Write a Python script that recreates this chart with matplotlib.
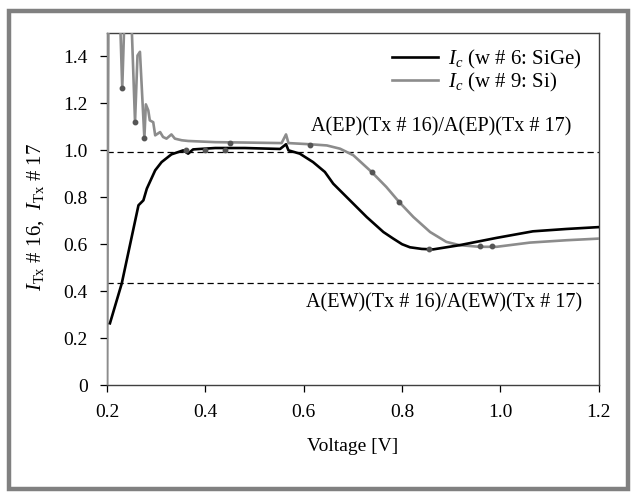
import numpy as np
import matplotlib.pyplot as plt
from matplotlib.patches import Rectangle

# SiGe (w # 6) curve
v_sige = [0.206, 0.230, 0.264, 0.274, 0.281, 0.298, 0.311, 0.331, 0.355, 0.365, 0.375,
          0.389, 0.42, 0.48, 0.552, 0.564, 0.569, 0.592, 0.619, 0.643, 0.660, 0.694,
          0.728, 0.762, 0.782, 0.800, 0.816, 0.840, 0.863, 0.917, 0.992, 1.066, 1.134, 1.2]
i_sige = [0.263, 0.433, 0.766, 0.787, 0.837, 0.915, 0.950, 0.983, 1.0, 0.986, 1.004,
          1.006, 1.01, 1.01, 1.006, 1.026, 1.0, 0.986, 0.95, 0.908, 0.858, 0.787,
          0.716, 0.652, 0.624, 0.600, 0.587, 0.580, 0.578, 0.596, 0.627, 0.655, 0.665, 0.673]

# Si (w # 9) curve
v_si = [0.2, 0.203, 0.226, 0.231, 0.236, 0.249, 0.257, 0.262, 0.267, 0.276, 0.279, 0.284,
        0.287, 0.294, 0.298, 0.308, 0.314, 0.321, 0.331, 0.338, 0.352, 0.365, 0.42,
        0.491, 0.555, 0.564, 0.569, 0.613, 0.647, 0.674, 0.701, 0.738, 0.768, 0.794,
        0.823, 0.857, 0.890, 0.917, 0.958, 0.992, 1.06, 1.134, 1.2]
i_si = [0.0, 1.6, 1.6, 1.265, 1.6, 1.6, 1.12, 1.404, 1.42, 1.052, 1.196, 1.17,
        1.128, 1.12, 1.064, 1.078, 1.057, 1.05, 1.068, 1.05, 1.043, 1.04, 1.035,
        1.033, 1.031, 1.068, 1.031, 1.026, 1.021, 1.007, 0.979, 0.908, 0.844, 0.78,
        0.716, 0.652, 0.61, 0.596, 0.589, 0.589, 0.607, 0.617, 0.624]

# small data markers visible on the curves
v_dots = [0.231, 0.257, 0.276, 0.45, 0.612, 0.738, 0.794, 0.958, 0.982, 0.36, 0.40, 0.44, 0.855]
i_dots = [1.265, 1.12, 1.052, 1.033, 1.022, 0.908, 0.78, 0.592, 0.592, 1.0, 1.0, 1.0, 0.578]

ep_ratio = 0.995
ew_ratio = 0.435

plt.rcParams['font.family'] = 'Liberation Serif'
plt.rcParams['mathtext.fontset'] = 'custom'
plt.rcParams['mathtext.it'] = 'Liberation Serif:italic'
plt.rcParams['mathtext.rm'] = 'Liberation Serif'

fig = plt.figure(figsize=(6.35, 4.93), dpi=100)
ax = fig.add_axes([0.1685, 0.219, 0.7745, 0.714])

ax.plot(v_si, i_si, color='#8c8c8c', lw=1.9, zorder=3)
ax.plot(v_sige, i_sige, color='black', lw=1.9, zorder=4)
ax.plot(v_dots, i_dots, 'o', color='#555555', ms=3.2, zorder=5)
ax.axhline(ep_ratio, color='black', lw=0.9, ls=(0, (5, 3)), zorder=2)
ax.axhline(ew_ratio, color='black', lw=0.9, ls=(0, (5, 3)), zorder=2)

l1, = ax.plot([], [], color='black', lw=1.9)
l2, = ax.plot([], [], color='#8c8c8c', lw=1.9)
ax.legend([l1, l2], ['$I_c$ (w # 6: SiGe)', '$I_c$ (w # 9: Si)'], loc='upper right',
          bbox_to_anchor=(0.995, 1.0), frameon=False, fontsize=15, handlelength=2.2,
          handletextpad=0.5, labelspacing=0.0, borderaxespad=0.3)

ax.text(1.145, 1.10, 'A(EP)(Tx # 16)/A(EP)(Tx # 17)', fontsize=14.5, ha='right', va='center')
ax.text(1.167, 0.349, 'A(EW)(Tx # 16)/A(EW)(Tx # 17)', fontsize=14.5, ha='right', va='center')

ax.set_xlim(0.2, 1.2)
ax.set_ylim(0, 1.5)
ax.set_xticks([0.2, 0.4, 0.6, 0.8, 1.0, 1.2])
ax.set_xticklabels(['0.2', '0.4', '0.6', '0.8', '1.0', '1.2'])
ax.set_yticks([0, 0.2, 0.4, 0.6, 0.8, 1.0, 1.2, 1.4])
ax.set_yticklabels(['0', '0.2', '0.4', '0.6', '0.8', '1.0', '1.2', '1.4'])
ax.tick_params(direction='out', length=5, width=0.9, labelsize=14, pad=9, colors='black')
for s in ax.spines.values():
    s.set_color('#404040')
    s.set_linewidth(1.0)

ax.set_xlabel('Voltage [V]', fontsize=14, labelpad=12)
ax.set_ylabel(r'$I_{\mathrm{Tx}}$ # 16,  $I_{\mathrm{Tx}}$ # 17', fontsize=15)
ax.yaxis.set_label_coords(-0.125, 0.477)

# grey frame around the whole figure
fig.patches.append(Rectangle((9 / 635, 4 / 493), 619 / 635, 478 / 493, transform=fig.transFigure,
                             fill=False, edgecolor='#808080', lw=3.2))

fig.savefig('out.png', dpi=100)
